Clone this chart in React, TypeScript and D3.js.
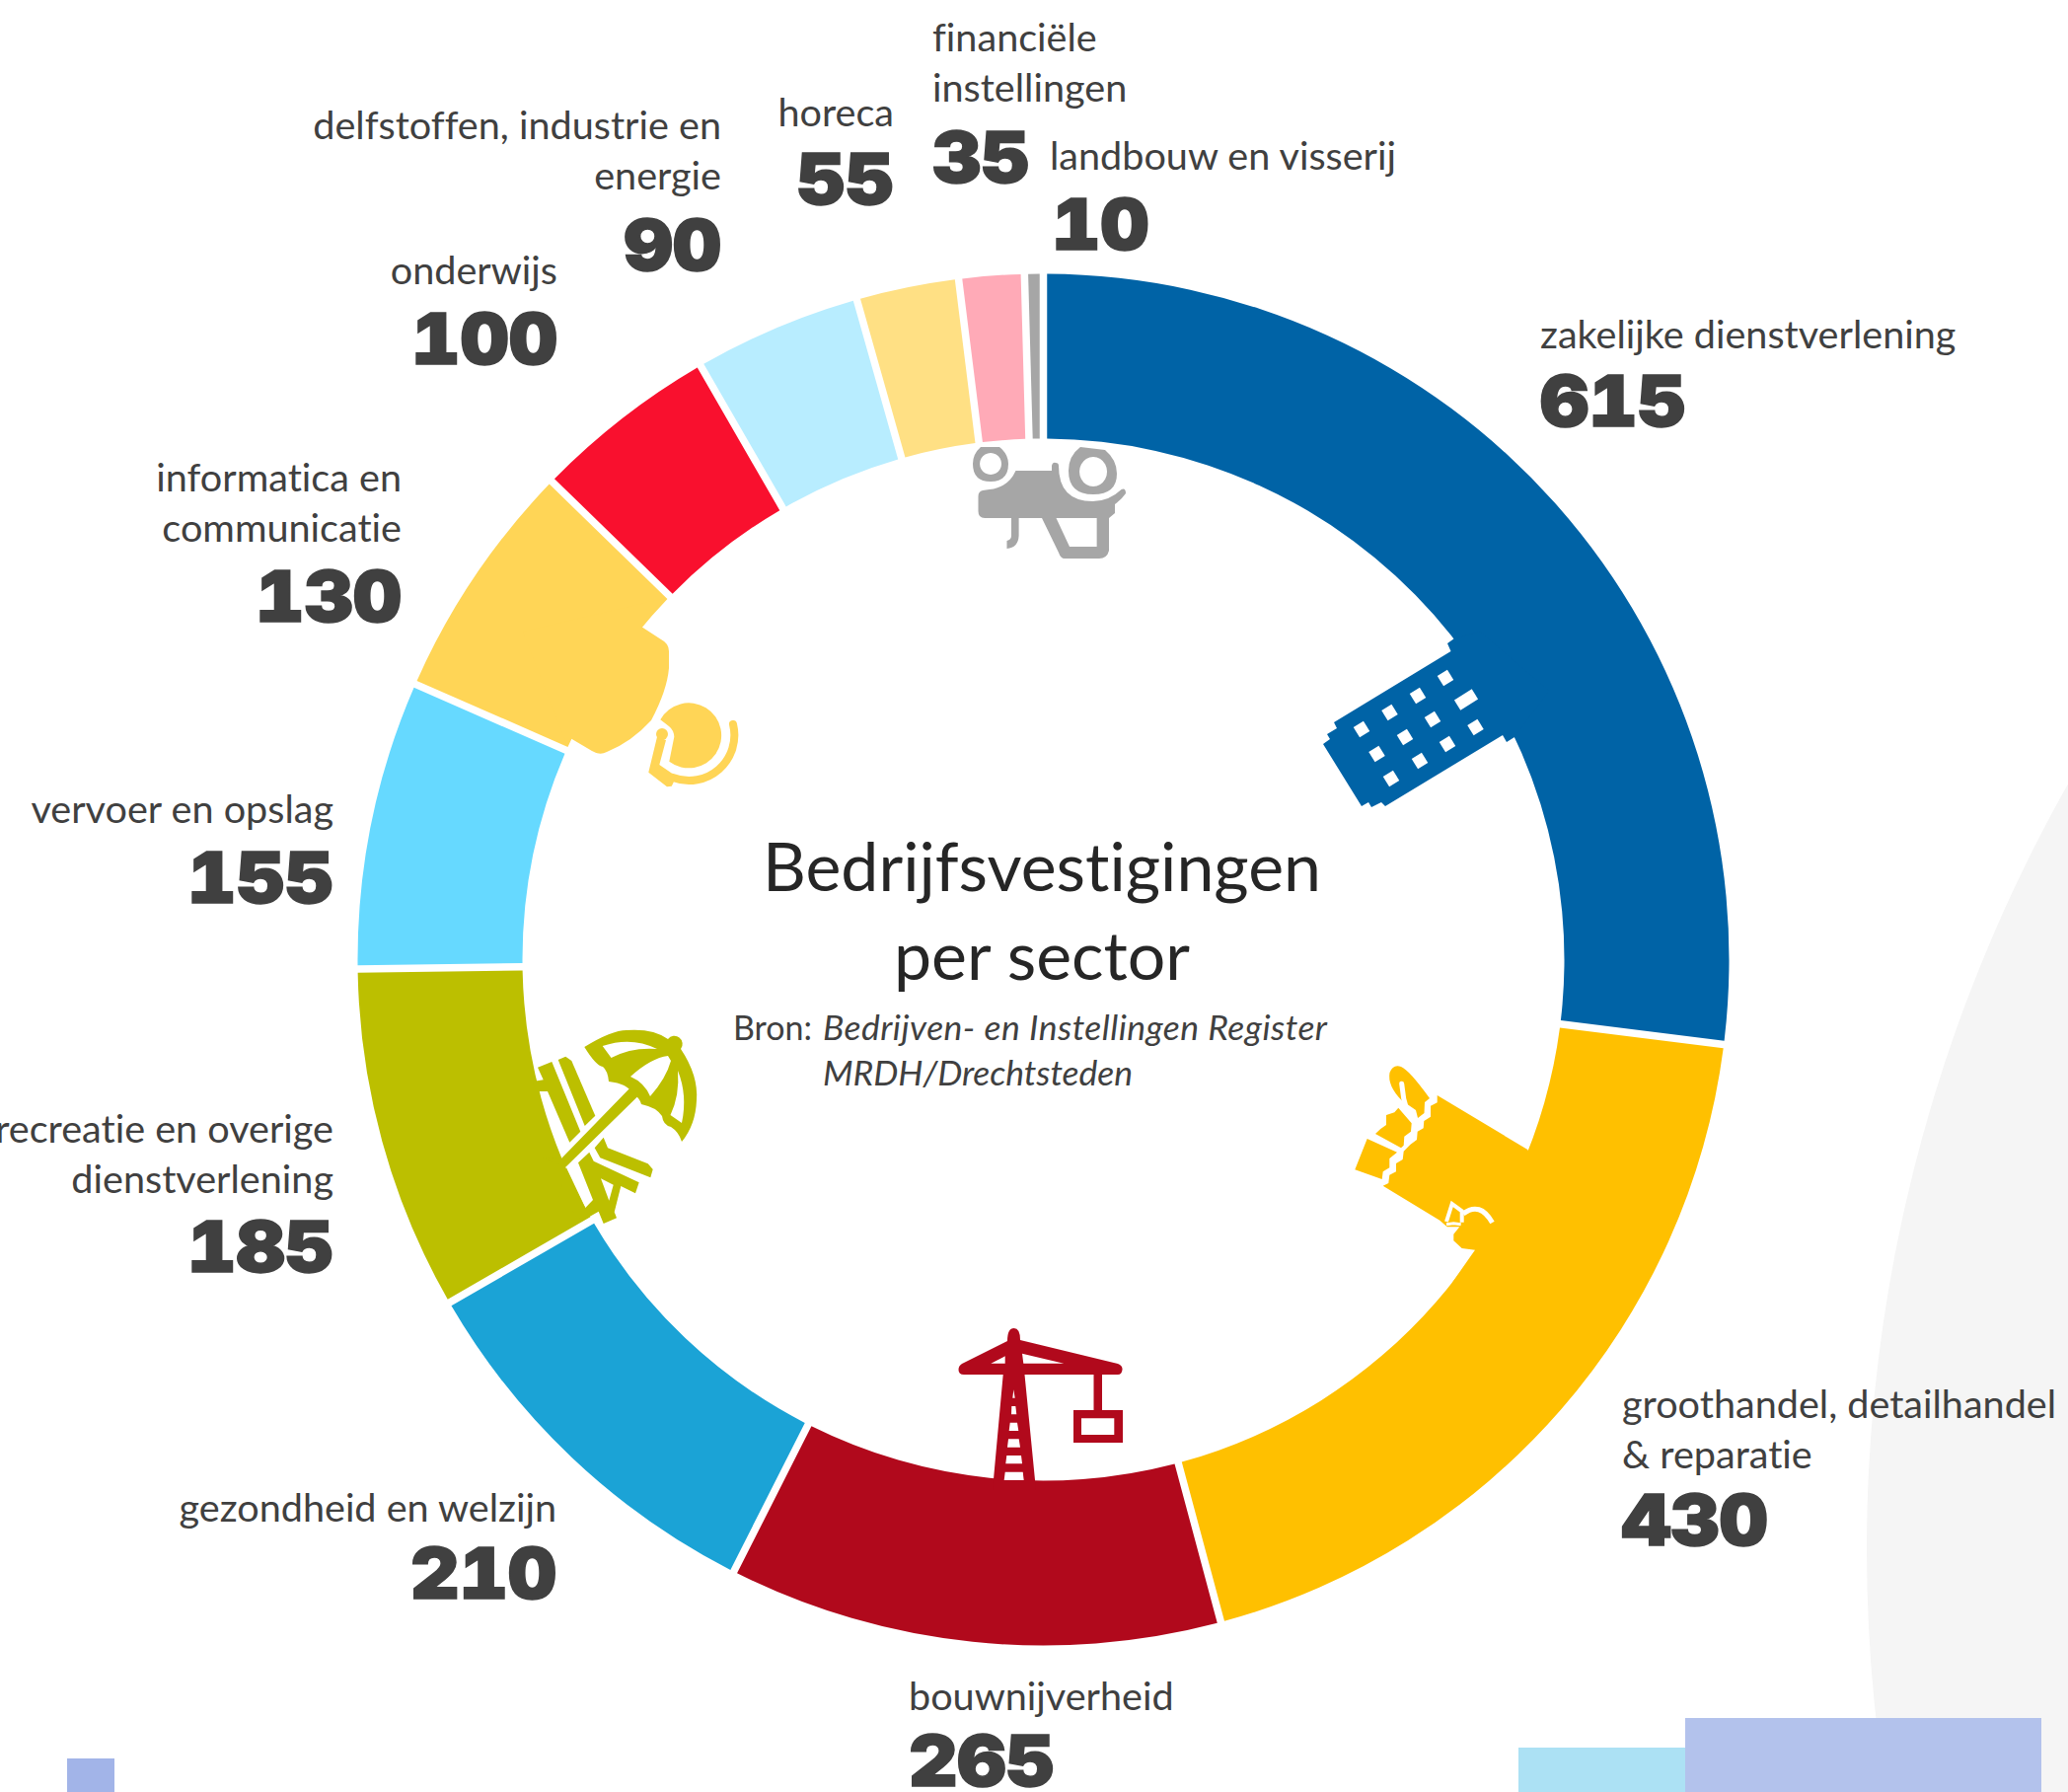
import React from "react";
import * as d3 from "d3";

const sectors = ["zakelijke dienstverlening","groothandel, detailhandel & reparatie","bouwnijverheid","gezondheid en welzijn","recreatie en overige dienstverlening","vervoer en opslag","informatica en communicatie","onderwijs","delfstoffen, industrie en energie","horeca","financiële instellingen","landbouw en visserij"];
const counts = [615,430,265,210,185,155,130,100,90,55,35,10];
const colors = ["#0063A6","#FFC000","#B1091C","#1BA3D6","#BCBF00","#66D9FF","#FFD556","#F9102E","#B8EDFF","#FFE084","#FFAAB7","#A6A6A6"];
const labelLines = [["zakelijke dienstverlening"],["groothandel, detailhandel","& reparatie"],["bouwnijverheid"],["gezondheid en welzijn"],["recreatie en overige","dienstverlening"],["vervoer en opslag"],["informatica en","communicatie"],["onderwijs"],["delfstoffen, industrie en","energie"],["horeca"],["financiële","instellingen"],["landbouw en visserij"]];
const labelX = [1561,1644,921,564,338,338,407,565,731,906,945,1064];
const labelY = [353,1437,1733,1542,1158,834,498,288,141,128,52,172];
const numberY = [432,1566,1810,1620,1289,915,630,369,274,207,185,253];
const labelAnchor = ["start","start","start","end","end","end","end","end","end","end","start","start"];

const CX = 1057.5, CY = 972.5, R = 695, r = 528;
const BODY = "Lato, Carlito, sans-serif";
const NUM = "Inter, 'DejaVu Sans', sans-serif";
const noLig = { fontVariantLigatures: "none" } as React.CSSProperties;

type P = [number, number];
const map = (x0: number, y0: number, sx: number, sy: number) => (pts: P[]) => {
  return "M" + pts.map(([x, y]) => `${(x0 + x / sx).toFixed(1)},${(y0 + y / sy).toFixed(1)}`).join("L") + "Z";
};
const open = (x0: number, y0: number, sx: number, sy: number) => (pts: P[]) => {
  return "M" + pts.map(([x, y]) => `${(x0 + x / sx).toFixed(1)},${(y0 + y / sy).toFixed(1)}`).join("L");
};

const windows: [number, number, number][] = [[1465,687,12],[1437,705,12],[1408.5,722,12],[1380,739,12],[1395.5,764,12],[1424,747,12],[1452,729,12],[1486,709,21],[1410,789,12],[1439,771,12],[1467,754,12],[1495.5,737,12]];

function Building() {
  const d = "M1474,647L1467,652L1470.5,660L1352,732L1355,738L1345,744L1348,749L1341,754L1380,817L1387,813L1390,818L1400,813L1404,817L1523,745L1527,752L1535,747L1570,700L1500,640Z";
  return <g>
    <path d={d} fill={colors[0]} />
    {windows.map(([x, y, w], i) => <rect key={i} x={-w / 2} y={-6} width={w} height={12} fill="#fff" transform={`translate(${x},${y}) rotate(-32)`} />)}
  </g>;
}

function Tractor() {
  const c = colors[11];
  const body = "M991.5,503Q991.5,498 996,497L1002.7,496Q1022,494 1029.5,477L1066,477L1066,472Q1067,468 1070,469Q1073,469 1073,472Q1073,508 1107.6,508Q1124,508 1136.6,496Q1141,494 1141,500Q1137,506 1130,511L1130,520L1124,525L1124,558Q1122,566 1114,566L1079,566Q1075,566 1073,560L1056,525L1032.6,525L1032.6,543Q1032,555 1020.5,556L1020.5,548Q1025,547 1025,543L1025,525L998,525Q991.5,525 991.5,518Z";
  const hole = "M1070.5,525L1084,554L1111.6,554L1111.6,525Z";
  return <g>
    <path d={body} fill={c} />
    <path d={hole} fill="#fff" />
    <path d="M994,453L1013,453Q1022,460 1022,470Q1022,488 1004,488Q986,488 986,470Q986,460 994,453ZM1004,459a11,11 0 1,0 0.1,0Z" fill={c} fillRule="evenodd" />
    <path d="M1095,453L1120,456Q1132,466 1132,480Q1132,501 1108,501Q1083,501 1083,477Q1083,462 1095,453ZM1108,463a14,15 0 1,0 0.1,0Z" fill={c} fillRule="evenodd" />
  </g>;
}

function Bag() {
  const m = map(1300, 1000, 3, 3);
  const w = open(1300, 1000, 3, 3);
  const c = colors[1];
  const bag = m([[745,495],[470,330],[470,352],[450,362],[450,395],[430,408],[428,430],[410,440],[408,465],[388,480],[368,500],[365,525],[345,537],[345,562],[325,572],[322,597],[305,605],[478,710],[500,730],[538,730],[520,752],[520,772],[545,795],[585,800],[515,900],[870,760]]);
  const box = m([[257,462],[348,503],[325,522],[325,550],[305,562],[302,585],[220,556]]);
  const mid = m([[282,447],[298,432],[315,420],[315,390],[340,382],[352,368],[392,415],[390,440],[370,455],[368,482],[360,490]]);
  return <g>
    <path d={bag} fill={c} />
    <path d={box} fill={c} />
    <path d={mid} fill={c} />
    <path d="M1420.5,1115Q1406,1100 1408.5,1087Q1412,1078 1420,1081Q1428,1084 1449,1113L1444,1117L1443.5,1128L1437,1133L1435,1125L1420.5,1115Z" fill={c} />
    <path d={w([[362,295],[368,340],[375,365],[405,410]])} fill="none" stroke="#fff" strokeWidth={5} strokeLinecap="round" />
    <path d={w([[498,714],[515,660],[545,682],[545,716]])} fill="none" stroke="#fff" strokeWidth={4} />
    <path d={w([[498,722],[520,719],[542,722]])} fill="none" stroke="#fff" strokeWidth={3} />
    <path d="M1483,1230Q1500,1217 1512.5,1239" fill="none" stroke="#fff" strokeWidth={5} />
  </g>;
}

function Headset() {
  const c = colors[6];
  const m = map(500, 600, 3, 3);
  const p = "M675,606L650,635L670,648Q678,652 678,660L678,677Q676,700 660,730Q640,752 615,762Q608,766 600,761L578,748L575,756L530,640Z";
  return <g>
    <path d={p} fill={c} />
    <path d="M669.3,729.3A33,33 0 1,1 678.3,771.7L683.3,746.7Q683,740 678,736Z" fill={c} />
    <path d="M743,734A46,46 0 0,1 682,788" fill="none" stroke={c} strokeWidth={8} strokeLinecap="round" />
    <circle cx={671} cy={744} r={6} fill={c} />
    <path d={m([[498,440],[472,548],[528,592],[542,590],[548,578],[552,557],[505,525],[525,450]])} fill={c} />
  </g>;
}

function Beach() {
  const m = map(500, 1000, 3, 3);
  const c = colors[4];
  const polys: P[][] = [
    [[120,288],[152,283],[135,245],[178,228],[265,440],[232,473],[165,318],[130,318]],
    [[197,222],[220,212],[238,225],[310,392],[278,423]],
    [[207,522],[415,308],[440,332],[220,548],[150,520]],
    [[308,490],[335,458],[348,490],[470,538],[485,555],[478,580],[325,520]],
    [[258,535],[292,503],[305,530],[443,595],[432,628],[388,606],[368,685],[375,703],[335,720],[320,683],[270,712],[200,640],[222,550],[280,672],[303,648]],
  ];
  const hole = m([[327,583],[365,602],[352,650]]);
  const umbrella = "M592.3,1061Q620,1044 635,1044Q662,1042 677,1053A6,6 0 1,1 690,1063Q708,1090 706,1115Q705,1140 691,1157Q688,1147 680,1142Q672,1140 671,1131Q665,1122 650,1119Q648,1112 641,1108Q636,1098 617,1096Q616,1085 611,1081Q604,1080 592.3,1061Z";
  return <g>
    {polys.map((p, i) => <path key={i} d={m(p)} fill={c} />)}
    <path d={hole} fill="#fff" />
    <path d={umbrella} fill={c} />
    <path d="M610.7,1060Q640,1050 666,1063Q640,1061 619.5,1072Z" fill="#fff" />
    <path d="M687,1085Q697,1110 691,1138L679.5,1130Q689,1110 687,1085Z" fill="#fff" />
    <path d="M639,1091Q660,1072 677,1070L680,1075Q675,1093 659,1111Q653,1097 639,1091Z" fill="#fff" />
  </g>;
}

function Crane() {
  const c = colors[2];
  const m = map(920, 1320, 3, 3);
  const holes: P[][] = [
    [[253,185],[296,163],[296,185]],[[348,155],[475,185],[352,185]],
    [[322,265],[326,290],[319,290]],[[316,315],[328,315],[331,340],[315,340]],[[311,365],[333,365],[337,390],[308,390]],
    [[306,415],[338,415],[342,440],[303,440]],[[301,465],[345,465],[348,490],[298,490]],[[296,515],[350,515],[353,540],[293,540]],
    [[528,352],[628,352],[628,402],[528,402]],
  ];
  const mast = "M1021,1359Q1021,1346 1027.7,1346Q1034,1346 1034,1358L1133,1382Q1138,1384 1137.5,1388Q1137,1393 1133,1393L1038.5,1393L1050,1510L1006,1510L1016.7,1393L977,1393Q971.5,1393 971.5,1388Q971.5,1384 975,1382Z";
  return <g>
    <path d={mast} fill={c} />
    <rect x={1108.5} y={1393} width={8.5} height={37} fill={c} />
    <rect x={1088} y={1429} width={50} height={33} fill={c} />
    {holes.map((h, i) => <path key={i} d={m(h)} fill="#fff" />)}
  </g>;
}

export default function App() {
  const pie = d3.pie<number>().sort(null).value((d) => d)(counts);
  const arc = d3.arc<d3.PieArcDatum<number>>().innerRadius(r).outerRadius(R).padAngle(0.0125).padRadius(600);
  const numText = (i: number, x: number, anchor: string) => (
    <text x={x} y={numberY[i]} textAnchor={anchor as any} fontFamily={NUM} fontWeight={900} fontSize={72} fill="#404040" stroke="#404040" strokeWidth={1.5} textLength={String(counts[i]).length * 49.3} lengthAdjust="spacingAndGlyphs" style={{ fontFeatureSettings: '"tnum"' }}>{counts[i]}</text>
  );
  return (
    <svg width={2096} height={1816} viewBox="0 0 2096 1816" style={{ position: "absolute", left: 0, top: 0, display: "block" }}>
      <rect width={2096} height={1816} fill="#fff" />
      <circle cx={3468} cy={1570} r={1576} fill="#F5F5F5" />
      <rect x={68} y={1782} width={48} height={34} fill="#A2B4E8" />
      <rect x={1539} y={1771} width={170} height={45} fill="#ACE1F4" />
      <rect x={1708} y={1741} width={361} height={75} fill="#B3C2EC" />
      <g transform={`translate(${CX},${CY})`}>
        {pie.map((d, i) => <path key={sectors[i]} d={arc(d) as string} fill={colors[i]} />)}
      </g>
      <Building /><Bag /><Crane /><Beach /><Headset /><Tractor />
      {labelLines.map((lines, i) => (
        <g key={i}>
          {lines.map((l, j) => (
            <text key={j} x={labelX[i]} y={labelY[i] + j * 51} textAnchor={labelAnchor[i] as any} fontFamily={BODY} fontSize={39.6} fill="#404040" style={noLig}>{l}</text>
          ))}
          {numText(i, labelX[i] + (i === 11 ? 2 : 0), labelAnchor[i])}
        </g>
      ))}
      <text x={1056} y={903} textAnchor="middle" fontFamily={BODY} fontSize={68} fill="#262626" style={noLig}>Bedrijfsvestigingen</text>
      <text x={1056} y={993} textAnchor="middle" fontFamily={BODY} fontSize={68} fill="#262626" style={noLig}>per sector</text>
      <text x={743} y={1054} fontFamily={BODY} fontSize={34} fill="#404040" style={noLig}>Bron:</text>
      <text x={834} y={1054} fontFamily={BODY} fontSize={35.5} fontStyle="italic" fill="#404040" textLength={511} style={noLig}>Bedrijven- en Instellingen Register</text>
      <text x={834} y={1100} fontFamily={BODY} fontSize={35.5} fontStyle="italic" fill="#404040" textLength={314} style={noLig}>MRDH/Drechtsteden</text>
    </svg>
  );
}
